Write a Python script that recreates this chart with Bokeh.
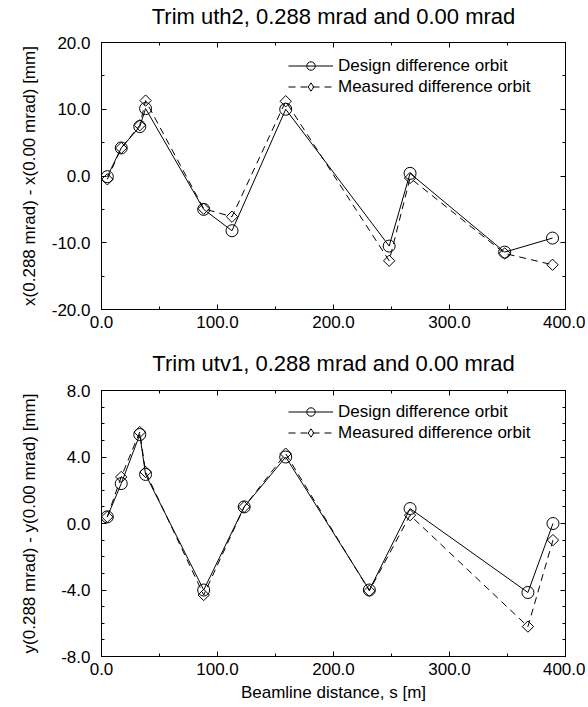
import numpy as np
from bokeh.plotting import figure
from bokeh.layouts import column
from bokeh.models import (Range1d, LinearAxis, SingleIntervalTicker,
                          PrintfTickFormatter, Legend, LegendItem,
                          CustomLabelingPolicy)
from bokeh.embed import file_html
from bokeh.resources import INLINE

# ---- data ----
s_h = [5.0, 17.0, 33.0, 38.0, 88.1, 112.5, 158.8, 248.0, 266.0, 347.6, 388.8]
design_h = [-0.1, 4.2, 7.4, 10.1, -5.0, -8.2, 10.0, -10.5, 0.4, -11.4, -9.3]
measured_h = [-0.5, 4.2, 7.6, 11.3, -4.9, -6.1, 11.2, -12.7, -0.3, -11.6, -13.3]

s_v = [5.0, 17.0, 33.0, 38.0, 88.1, 123.0, 158.8, 230.9, 266.0, 367.6, 389.2]
design_v = [0.4, 2.4, 5.35, 2.95, -4.0, 1.0, 4.0, -4.0, 0.9, -4.15, 0.0]
measured_v = [0.4, 2.8, 5.5, 3.1, -4.3, 1.0, 4.2, -4.05, 0.5, -6.2, -1.0]

title_h = "Trim uth2, 0.288 mrad and 0.00 mrad"
title_v = "Trim utv1, 0.288 mrad and 0.00 mrad"
ylabel_h = "x(0.288 mrad) - x(0.00 mrad) [mm]"
ylabel_v = "y(0.288 mrad) - y(0.00 mrad) [mm]"
xlabel = "Beamline distance, s [m]"
legend_labels = ["Design difference orbit", "Measured difference orbit"]
x_limits = (0, 400)
y_limits_h = (-20, 20)
y_limits_v = (-8, 8)

FONT = "Liberation Sans"

HIDE_ALL = CustomLabelingPolicy(code="""
const ids = Array.from(indices)
for (const i of ids) { indices.unset(i) }
return indices
""")


def style_axis(ax, ticker, labels=True):
    ax.ticker = ticker
    ax.formatter = PrintfTickFormatter(format="%.1f")
    ax.major_tick_in = 5
    ax.major_tick_out = 0
    ax.minor_tick_in = 3
    ax.minor_tick_out = 0
    ax.axis_line_color = "black"
    ax.major_tick_line_color = "black"
    ax.minor_tick_line_color = "black"
    ax.major_label_text_font = FONT
    ax.major_label_text_font_size = "17px"
    ax.major_label_text_color = "black"
    ax.axis_label_text_font = FONT
    ax.axis_label_text_font_size = "17px"
    ax.axis_label_text_font_style = "normal"
    ax.axis_label_text_color = "black"
    if not labels:
        ax.major_label_text_font_size = "0px"
        ax.major_label_standoff = 0
        ax.major_label_policy = HIDE_ALL


def make_panel(title, s, design, measured, ylim, ytick, yminor, ylabel,
               xlab, mbt, mbb, title_standoff, ylabel_standoff, fh, leg_y):
    p = figure(frame_width=464, frame_height=fh,
               x_range=Range1d(*x_limits), y_range=Range1d(*ylim),
               output_backend="svg", toolbar_location=None,
               min_border_left=101, min_border_right=20,
               min_border_top=mbt, min_border_bottom=mbb)
    p.xgrid.visible = False
    p.ygrid.visible = False
    p.outline_line_color = "black"
    p.outline_line_width = 1
    p.background_fill_color = "white"
    p.border_fill_color = "white"

    xt = lambda: SingleIntervalTicker(interval=100, num_minor_ticks=2)
    yt = lambda: SingleIntervalTicker(interval=ytick, num_minor_ticks=yminor)

    style_axis(p.xaxis[0], xt())
    p.xaxis[0].major_label_standoff = 6
    if xlab:
        p.xaxis[0].axis_label = xlab
        p.xaxis[0].axis_label_standoff = 5
    style_axis(p.yaxis[0], yt())
    p.yaxis[0].major_label_standoff = 11
    p.yaxis[0].axis_label = ylabel
    p.yaxis[0].axis_label_standoff = ylabel_standoff

    # mirrored top axis (ticks only); its axis label carries the panel title
    top = LinearAxis()
    style_axis(top, xt(), labels=False)
    top.axis_label = title
    top.axis_label_text_font_size = "22px"
    top.axis_label_standoff = title_standoff
    p.add_layout(top, "above")
    right = LinearAxis()
    style_axis(right, yt(), labels=False)
    p.add_layout(right, "right")

    l1 = p.line(s, design, line_color="black", line_width=1)
    c1 = p.scatter(s, design, marker="circle", size=12, fill_color=None,
                   line_color="black", line_width=1)
    l2 = p.line(s, measured, line_color="black", line_width=1, line_dash="7 5")
    p.scatter(s, measured, marker="square", angle=np.pi / 4, size=8,
              fill_color=None, line_color="black", line_width=1)
    # legend-only copy (legend swatches ignore angle), not shown in the plot
    c2 = p.scatter(s, measured, marker="diamond", size=12, fill_color=None,
                   line_color="black", line_width=1, visible=False)

    legend = Legend(items=[LegendItem(label=legend_labels[0], renderers=[l1, c1]),
                           LegendItem(label=legend_labels[1], renderers=[l2, c2])],
                    location=(187, leg_y), padding=0, margin=0,
                    border_line_color=None, background_fill_alpha=0,
                    glyph_width=45, glyph_height=21, label_height=21,
                    spacing=0, label_standoff=5,
                    label_text_font=FONT, label_text_font_size="17px",
                    label_text_color="black")
    p.add_layout(legend)
    return p


p1 = make_panel(title_h, s_h, design_h, measured_h, y_limits_h, 10, 2,
                ylabel_h, None, 42, 38, 14, 10, 267, 267 - 55)
p2 = make_panel(title_v, s_v, design_v, measured_v, y_limits_v, 4, 4,
                ylabel_v, xlabel, 43, 49, 15, 19, 266, 266 - 53)

layout = column(p1, p2, spacing=0)

with open("out.html", "w") as f:
    f.write(file_html(layout, INLINE))
